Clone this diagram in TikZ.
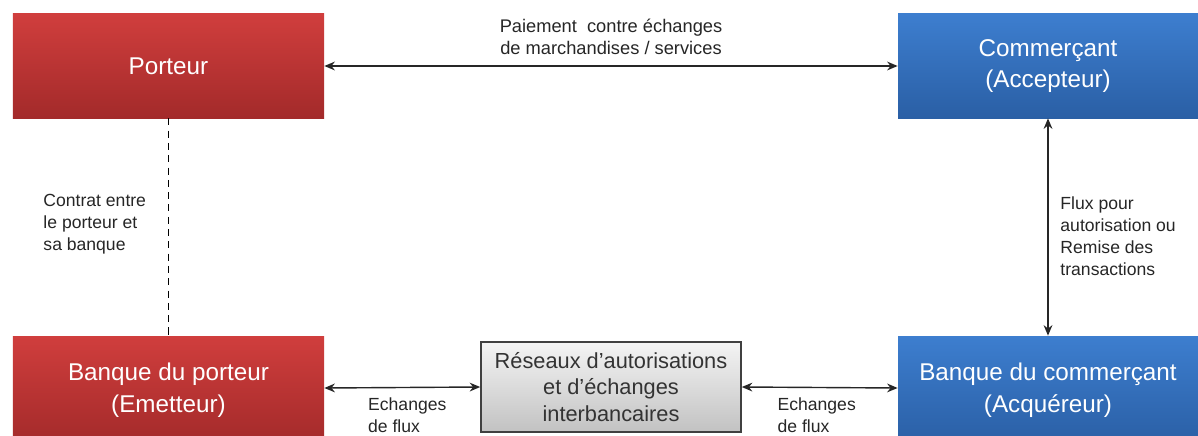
\documentclass[tikz,border=0pt]{standalone}
\usepackage{fontspec}
\setmainfont{Liberation Sans}
\usepackage{tikz}
\usetikzlibrary{positioning, arrows.meta, calc}

\definecolor{rougeHaut}{HTML}{D03E3D}
\definecolor{rougeBas}{HTML}{A32A2A}
\definecolor{bleuHaut}{HTML}{3D7ECF}
\definecolor{bleuBas}{HTML}{2A5FA5}
\definecolor{grisHaut}{HTML}{F4F4F4}
\definecolor{grisBas}{HTML}{C2C2C2}
\definecolor{texte}{HTML}{262626}

\begin{document}
\begin{tikzpicture}[
            % Styles des noeuds
            acteur/.style={rectangle, minimum width=6.22cm, minimum height=2.08cm, align=center,
                text=white, font=\fontsize{13.8}{18}\selectfont},
            porteurbox/.style={acteur, top color=rougeHaut, bottom color=rougeBas},
            commercebox/.style={acteur, top color=bleuHaut, bottom color=bleuBas, minimum width=6cm},
            reseau/.style={rectangle, draw=black!75, line width=0.9pt, top color=grisHaut, bottom color=grisBas,
                minimum width=5.2cm, minimum height=1.8cm, align=center, text=black!80,
                font=\fontsize{12.4}{15}\selectfont},
            etiquette/.style={align=left, text=texte, font=\fontsize{10}{12.5}\selectfont, inner sep=1pt},
            arrow/.style={<->, >={Stealth[length=6pt, width=5pt]}, line width=0.8pt, draw=black!85}
        ]

            \useasboundingbox (0,0) rectangle (23.96,-8.72);

            % Noeuds
            \node[porteurbox] (porteur) at (3.37,-1.32) {Porteur};
            \node[commercebox] (commercant) at (20.96,-1.32) {Commerçant\\(Accepteur)};
            \node[porteurbox, minimum height=2.16cm] (bqporteur) at (3.37,-7.8) {Banque du porteur\\(Emetteur)};
            \node[commercebox, minimum height=2.16cm] (bqcommercant) at (20.96,-7.8) {Banque du commerçant\\(Acquéreur)};
            \node[reseau] (reseau) at (12.22,-7.74) {Réseaux d’autorisations\\et d’échanges\\interbancaires};

            % Liaisons du haut
            \draw[arrow] (porteur.east) -- node[etiquette, align=center, above=0.17cm, font=\fontsize{10.4}{12.5}\selectfont] {Paiement\ \ contre échanges\\de marchandises / services} (commercant.west);

            % Liaisons verticales
            \draw[dashed, line width=0.8pt, dash pattern=on 4pt off 3pt] (porteur.south) -- node[etiquette, left=0.4cm, yshift=0.06cm] {Contrat entre\\le porteur et\\sa banque} (bqporteur.north);
            \draw[arrow] (commercant.south) -- node[etiquette, right=0.2cm, yshift=-0.18cm] {Flux pour\\autorisation ou\\Remise des\\transactions} (bqcommercant.north);

            % Liaisons du bas
            \draw[arrow] ($(bqporteur.east)+(0,0.04)$) -- node[etiquette, below=0.15cm, xshift=0.1cm] {Echanges\\de flux} (reseau.west);
            \draw[arrow] (reseau.east) -- node[etiquette, below=0.15cm, xshift=-0.06cm] {Echanges\\de flux} ($(bqcommercant.west)+(0,0.04)$);
        \end{tikzpicture}
\end{document}
